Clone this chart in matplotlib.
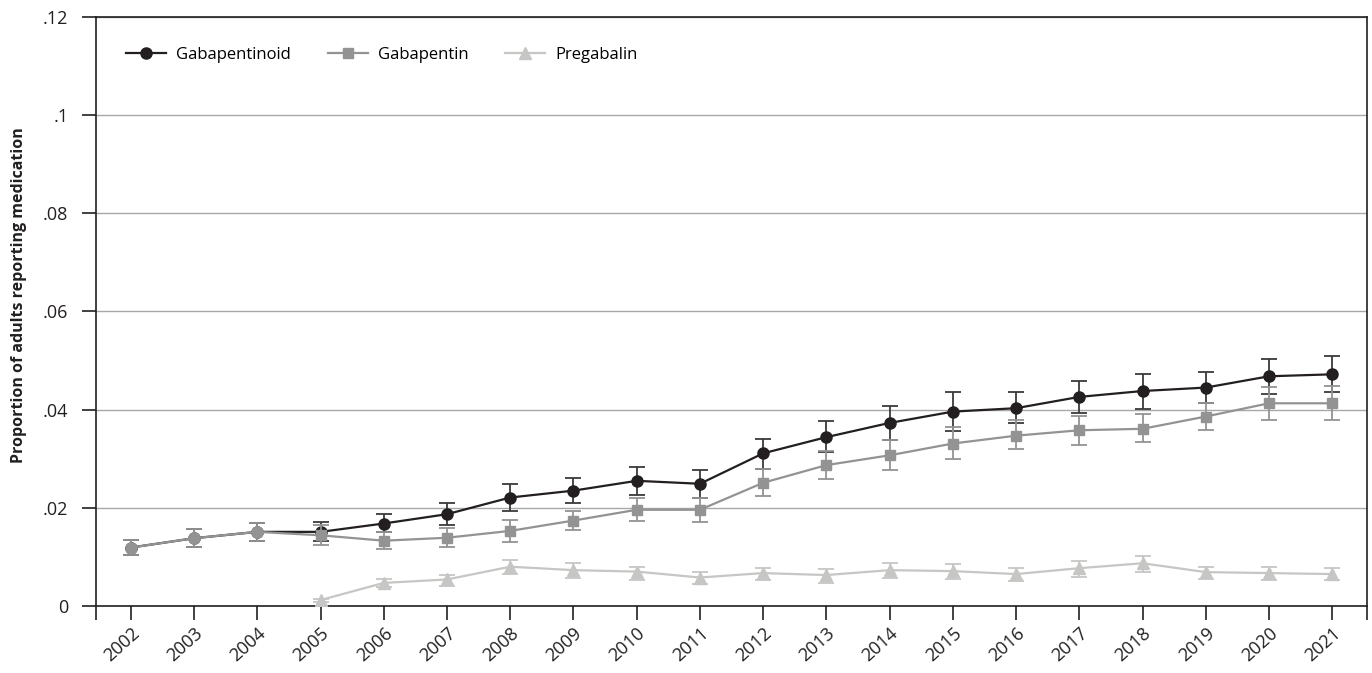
import matplotlib
matplotlib.use("Agg")
import matplotlib.pyplot as plt
from matplotlib.lines import Line2D
import numpy as np

plt.rcParams['font.family'] = ['Open Sans', 'DejaVu Sans']

years = list(range(2002, 2022))

gabapentinoid = [0.0119, 0.0138, 0.0151, 0.0151, 0.0168, 0.0187, 0.0221, 0.0235, 0.0255, 0.0249,
                 0.0311, 0.0344, 0.0373, 0.0396, 0.0403, 0.0426, 0.0438, 0.0445, 0.0468, 0.0472]
gabapentinoid_lo = [0.0104, 0.0120, 0.0132, 0.0132, 0.0150, 0.0165, 0.0193, 0.0209, 0.0227, 0.0221,
                    0.0280, 0.0314, 0.0338, 0.0357, 0.0372, 0.0393, 0.0401, 0.0413, 0.0431, 0.0435]
gabapentinoid_hi = [0.0134, 0.0156, 0.0169, 0.0171, 0.0187, 0.0209, 0.0248, 0.0261, 0.0284, 0.0277,
                    0.0341, 0.0377, 0.0407, 0.0435, 0.0435, 0.0459, 0.0473, 0.0476, 0.0503, 0.0509]

gabapentin = [0.0119, 0.0138, 0.0151, 0.0144, 0.0133, 0.0139, 0.0153, 0.0174, 0.0196, 0.0196,
              0.0251, 0.0287, 0.0307, 0.0331, 0.0347, 0.0358, 0.0361, 0.0386, 0.0413, 0.0413]
gabapentin_lo = [0.0104, 0.0120, 0.0132, 0.0124, 0.0116, 0.0121, 0.0131, 0.0154, 0.0173, 0.0171,
                 0.0224, 0.0258, 0.0277, 0.0299, 0.0319, 0.0329, 0.0334, 0.0359, 0.0379, 0.0379]
gabapentin_hi = [0.0134, 0.0156, 0.0169, 0.0164, 0.0150, 0.0158, 0.0175, 0.0193, 0.0219, 0.0219,
                 0.0280, 0.0316, 0.0338, 0.0365, 0.0378, 0.0387, 0.0391, 0.0413, 0.0446, 0.0449]

preg_years = list(range(2005, 2022))
pregabalin = [0.0012, 0.0047, 0.0054, 0.0080, 0.0073, 0.0070, 0.0058, 0.0067, 0.0063, 0.0073,
              0.0071, 0.0065, 0.0077, 0.0087, 0.0069, 0.0067, 0.0065]
pregabalin_lo = [0.0009, 0.0039, 0.0041, 0.0065, 0.0058, 0.0053, 0.0045, 0.0052, 0.0046, 0.0056,
                 0.0054, 0.0050, 0.0060, 0.0069, 0.0054, 0.0052, 0.0053]
pregabalin_hi = [0.0015, 0.0054, 0.0064, 0.0094, 0.0087, 0.0080, 0.0070, 0.0078, 0.0076, 0.0088,
                 0.0085, 0.0078, 0.0092, 0.0102, 0.0080, 0.0080, 0.0077]

y_ticks = [0, 0.02, 0.04, 0.06, 0.08, 0.10, 0.12]
y_ticklabels = ['0', '.02', '.04', '.06', '.08', '.1', '.12']

series_labels = ['Gabapentinoid', 'Gabapentin', 'Pregabalin']

c_black = '#231f20'
c_black_err = '#3a3a3a'
c_gray = '#939393'
c_light = '#c6c6c4'

fig = plt.figure(figsize=(13.72, 6.73), dpi=100)
ax = fig.add_axes([0.070, 0.0996, 0.9264, 0.8751])

def yerr(v, lo, hi):
    v = np.array(v); return [v - np.array(lo), np.array(hi) - v]

# Gabapentinoid
ax.errorbar(years, gabapentinoid, yerr=yerr(gabapentinoid, gabapentinoid_lo, gabapentinoid_hi),
            fmt='none', ecolor=c_black_err, elinewidth=1.3, capsize=6, capthick=1.3, zorder=3)
ax.plot(years, gabapentinoid, color=c_black, lw=1.6, marker='o', ms=8, zorder=4)

# Gabapentin
ax.errorbar(years, gabapentin, yerr=yerr(gabapentin, gabapentin_lo, gabapentin_hi),
            fmt='none', ecolor=c_gray, elinewidth=1.3, capsize=6, capthick=1.3, zorder=5)
ax.plot(years, gabapentin, color=c_gray, lw=1.6, zorder=6)
ax.plot(years[:3], gabapentin[:3], ls='none', marker='o', ms=8, color=c_gray, zorder=6)
ax.plot(years[3:], gabapentin[3:], ls='none', marker='s', ms=7.5, color=c_gray, zorder=6)

# Pregabalin
ax.errorbar(preg_years, pregabalin, yerr=yerr(pregabalin, pregabalin_lo, pregabalin_hi),
            fmt='none', ecolor=c_light, elinewidth=1.3, capsize=6, capthick=1.3, zorder=3)
ax.plot(preg_years, pregabalin, color=c_light, lw=1.6, marker='^', ms=9, zorder=4)

ax.set_xlim(2001.45, 2021.55)
ax.set_ylim(0, 0.12)
ax.set_yticks(y_ticks)
ax.set_yticklabels(y_ticklabels)
ax.set_xticks(years)
ax.set_xticklabels([str(y) for y in years], rotation=42, ha='right', rotation_mode='anchor')
ax.set_xticks([2001.45, 2021.55], minor=True)
ax.tick_params(axis='x', which='minor', length=10, width=1.2, color='#231f20')
ax.tick_params(axis='both', which='major', length=10, width=1.2, color='#231f20',
               labelsize=13, labelcolor='#231f20')
ax.tick_params(axis='x', pad=3)
ax.tick_params(axis='y', pad=10)

ax.yaxis.grid(True, color='#a8a8a8', lw=1.0)
ax.set_axisbelow(True)
for s in ax.spines.values():
    s.set_color('#231f20')
    s.set_linewidth(1.2)

ax.set_ylabel('Proportion of adults reporting medication', fontsize=11.5, fontweight='bold',
              color='#231f20')
ax.yaxis.set_label_coords(-0.054, 0.528)

handles = [
    Line2D([], [], color=c_black, lw=1.6, marker='o', ms=8),
    Line2D([], [], color=c_gray, lw=1.6, marker='s', ms=7.5),
    Line2D([], [], color=c_light, lw=1.6, marker='^', ms=9),
]
ax.legend(handles, series_labels, loc='upper left', bbox_to_anchor=(0.012, 0.975), ncol=3,
          frameon=False, fontsize=12, handlelength=2.4, columnspacing=2.2, handletextpad=0.6)

fig.savefig('out.png', dpi=100)
